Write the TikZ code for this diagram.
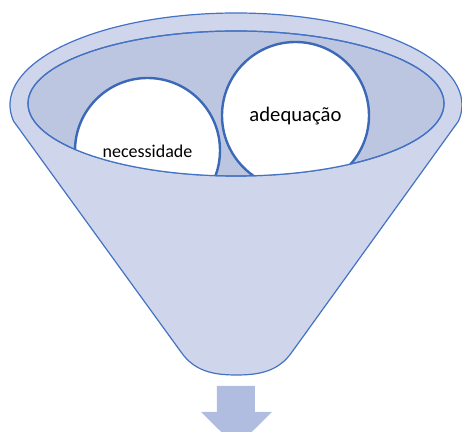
\documentclass[tikz,border=0pt]{standalone}
\usepackage{fontspec}
\setmainfont{Carlito}
\definecolor{rimline}{HTML}{4472C4}
\definecolor{ballline}{HTML}{3C68B8}
\definecolor{outerfill}{HTML}{CFD5EA}
\definecolor{innerfill}{HTML}{BCC6E1}
\definecolor{arrowfill}{HTML}{B0BDE0}
\tikzset{
    rim/.style={draw=rimline,line width=0.9pt},
    ball/.style={draw=ballline,line width=1.8pt,fill=white},
}
\begin{document}
\begin{tikzpicture}[x=0.75pt,y=0.75pt]
        \useasboundingbox (0,0) rectangle (462,432);
        \clip (0,0) rectangle (462,432);
        %% Funnel Body
        \draw[rim,fill=outerfill] (236,327) ++(190:226 and 92)
            arc[start angle=190,end angle=-10,x radius=226,y radius=92]
            -- (292,80) to[out=-125,in=0] (236.5,57)
            to[out=180,in=-55] (181,80) -- cycle;
        %% Inner Rim
        \draw[rim,fill=innerfill] (236,328.5) ellipse[x radius=208,y radius=72.5];
        %% Balls
        \begin{scope}
            \clip (236,328.5) ellipse[x radius=208,y radius=72.5];
            \draw[ball] (147.5,281.5) circle[radius=72.5];
            \draw[ball] (295.5,316.5) circle[radius=73.5];
        \end{scope}
        \draw[rim] (236,328.5) ellipse[x radius=208,y radius=72.5];
        \node (necessidade) at (147.5,281) {\fontsize{13.5}{16}\selectfont necessidade};
        \node (adequacao) at (295.5,316) {\fontsize{15.5}{18}\selectfont adequação};
        %% Output Arrow
        \fill[arrowfill] (217,46) -- (255,46) -- (255,20) -- (272,20)
            -- (236.5,-15) -- (201,20) -- (217,20) -- cycle;
    \end{tikzpicture}
\end{document}
